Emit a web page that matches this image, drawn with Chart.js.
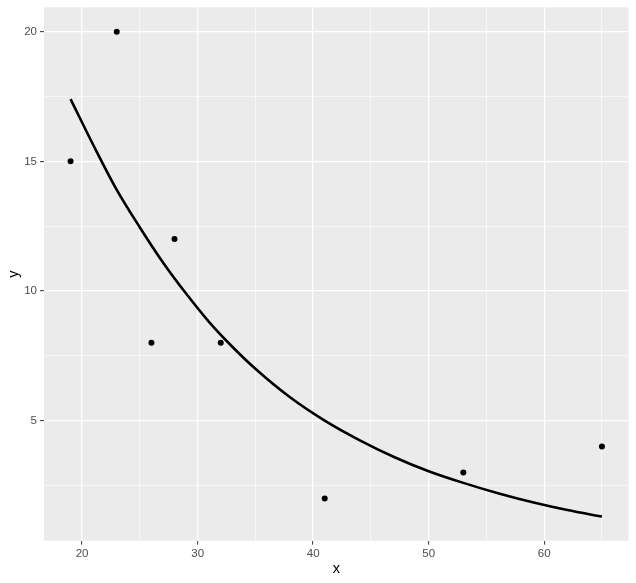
<!DOCTYPE html>
<html>
<head>
<meta charset="utf-8">
<script src="https://cdn.jsdelivr.net/npm/chart.js@4"></script>
<style>
html,body{margin:0;padding:0;background:#fff;}
canvas{display:block;}
</style>
</head>
<body>
<canvas id="c" width="636" height="583"></canvas>
<script>
const pointX = [19, 23, 26, 28, 32, 41, 53, 65];
const pointY = [15, 20, 8, 12, 8, 2, 3, 4];
const curveX = [19, 21, 23, 25, 27, 29, 31, 33, 35, 38, 41, 44, 47, 50, 53, 56, 59, 62, 65];
const curveY = [17.4, 15.6, 13.9, 12.45, 11.1, 9.9, 8.8, 7.85, 7.0, 5.9, 5.0, 4.25, 3.6, 3.05, 2.6, 2.2, 1.85, 1.55, 1.3];
const xTicks = [20, 30, 40, 50, 60];
const xMinor = [25, 35, 45, 55, 65];
const yTicks = [5, 10, 15, 20];
const yMinor = [2.5, 7.5, 12.5, 17.5];

const bgPlugin = {
  id: 'panelBg',
  beforeDraw(chart) {
    const a = chart.chartArea, ctx = chart.ctx;
    ctx.save();
    ctx.fillStyle = '#ebebeb';
    ctx.fillRect(a.left, a.top, a.right - a.left, a.bottom - a.top);
    ctx.restore();
  }
};

function buildTicks(major, minor) {
  return function(scale) {
    const all = major.map(v => ({value: v, major: true})).concat(minor.map(v => ({value: v, major: false})));
    all.sort((a, b) => a.value - b.value);
    scale.ticks = all;
  };
}
const isMajor = (ctx) => ctx.tick && ctx.tick.major;

new Chart(document.getElementById('c'), {
  type: 'scatter',
  data: {
    datasets: [
      {
        data: curveX.map((x, i) => ({x: x, y: curveY[i]})),
        showLine: true,
        borderColor: '#000',
        borderWidth: 2.6,
        pointRadius: 0,
        cubicInterpolationMode: 'monotone',
        fill: false
      },
      {
        data: pointX.map((x, i) => ({x: x, y: pointY[i]})),
        backgroundColor: '#000',
        borderColor: '#000',
        pointRadius: 3,
        borderWidth: 0
      }
    ]
  },
  options: {
    responsive: false,
    animation: false,
    devicePixelRatio: 1,
    layout: {padding: {top: 7.3, right: 7.5, left: 0, bottom: 0}},
    plugins: {legend: {display: false}, tooltip: {enabled: false}},
    scales: {
      x: {
        type: 'linear',
        min: 16.7, max: 67.3,
        afterBuildTicks: buildTicks(xTicks, xMinor),
        afterFit(scale) { scale.height = 42.3; scale.paddingLeft = 0; scale.paddingRight = 0; },
        border: {display: false},
        grid: {
          color: '#ffffff',
          lineWidth: (ctx) => isMajor(ctx) ? 1.3 : 0.6,
          tickColor: (ctx) => isMajor(ctx) ? '#333333' : 'rgba(0,0,0,0)',
          tickLength: 4,
          tickWidth: 1
        },
        ticks: {
          autoSkip: false,
          maxRotation: 0,
          padding: 2,
          color: '#4d4d4d',
          font: {family: 'Liberation Sans, Arial, sans-serif', size: 11.5},
          callback: function(v, i, ticks) { return ticks[i].major ? String(v) : ''; }
        },
        title: {
          display: true, text: 'x', color: '#000',
          font: {family: 'Liberation Sans, Arial, sans-serif', size: 14.5},
          padding: {top: 0, bottom: 5}
        }
      },
      y: {
        type: 'linear',
        min: 0.37, max: 20.94,
        afterBuildTicks: buildTicks(yTicks, yMinor),
        afterFit(scale) { scale.width = 44; scale.paddingTop = 0; scale.paddingBottom = 0; },
        border: {display: false},
        grid: {
          color: '#ffffff',
          lineWidth: (ctx) => isMajor(ctx) ? 1.3 : 0.6,
          tickColor: (ctx) => isMajor(ctx) ? '#333333' : 'rgba(0,0,0,0)',
          tickLength: 4,
          tickWidth: 1
        },
        ticks: {
          autoSkip: false,
          padding: 3,
          color: '#4d4d4d',
          font: {family: 'Liberation Sans, Arial, sans-serif', size: 11.5},
          callback: function(v, i, ticks) { return ticks[i].major ? String(v) : ''; }
        },
        title: {
          display: true, text: 'y', color: '#000',
          font: {family: 'Liberation Sans, Arial, sans-serif', size: 14.5},
          padding: {top: 5, bottom: 0}
        }
      }
    }
  },
  plugins: [bgPlugin]
});
</script>
</body>
</html>
